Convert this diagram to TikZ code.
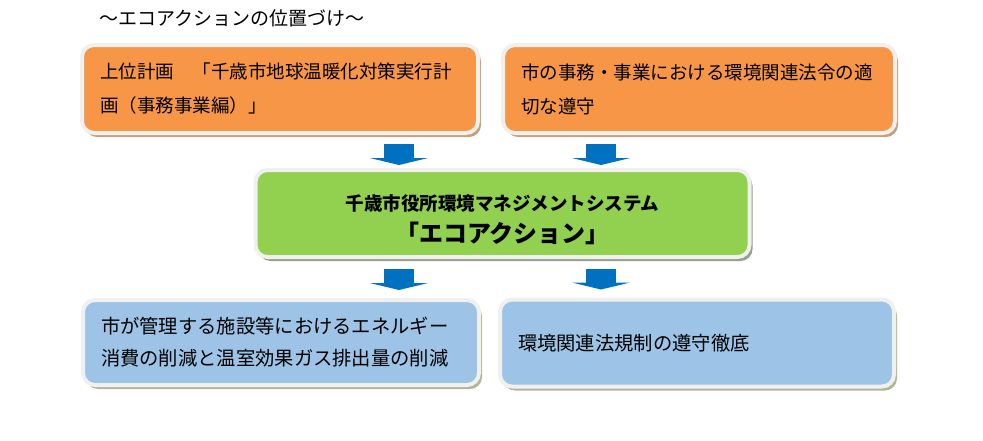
\documentclass[tikz,border=0pt]{standalone}
\usepackage{fontspec}
\setmainfont{Noto Sans CJK JP}
\usetikzlibrary{arrows.meta,positioning,calc,shadows}
\definecolor{plancol}{RGB}{247,150,70}
\definecolor{ecocol}{RGB}{146,208,80}
\definecolor{goalcol}{RGB}{157,195,230}
\definecolor{flowcol}{RGB}{0,112,192}
\definecolor{edgecol}{RGB}{240,240,238}
\definecolor{planshd}{RGB}{196,160,124}
\definecolor{ecoshd}{RGB}{150,158,140}
\definecolor{goalshd}{RGB}{178,182,150}

\begin{document}
\begin{tikzpicture}[x=1pt,y=-1pt,
  box/.style={rectangle,rounded corners=12pt,draw=edgecol,line width=4pt,
    inner xsep=18pt,inner ysep=0pt,align=left,text=black},
  planbox/.style={box,fill=plancol,font=\fontsize{18.5}{34}\selectfont,
    drop shadow={shadow xshift=3pt,shadow yshift=-4pt,fill=planshd,opacity=1}},
  ecobox/.style={box,fill=ecocol,align=center,
    drop shadow={shadow xshift=3pt,shadow yshift=-4pt,fill=ecoshd,opacity=1}},
  goalbox/.style={box,fill=goalcol,font=\fontsize{19.3}{32}\selectfont,
    drop shadow={shadow xshift=3pt,shadow yshift=-4pt,fill=goalshd,opacity=1}},
  flow/.style={flowcol,line width=30pt,-{Triangle[length=7pt,width=58pt]}}]
  \useasboundingbox (0,0) rectangle (983,440);

  \node[font=\fontsize{19}{22}\selectfont] (ttl) at (232,18) {～エコアクションの位置づけ～};

  % upper row
  \node[planbox,minimum width=396pt,minimum height=88pt,text width=360pt] (plan) at (280,89)
    {上位計画　「千歳市地球温暖化対策実行計\\画（事務事業編）」};
  \node[planbox,minimum width=392pt,minimum height=88pt,text width=356pt] (law) at (699,89)
    {市の事務・事業における環境関連法令の適\\切な遵守};

  % centre
  \node[ecobox,minimum width=494pt,minimum height=87pt,text width=458pt] (eco) at (502.5,213.5)
    {\rule{0pt}{28pt}{\fontsize{18.5}{24}\selectfont\bfseries 千歳市役所環境マネジメントシステム}\\[8pt]
     {\fontsize{24}{28}\selectfont\bfseries 「エコアクション」}};

  % lower row
  \node[goalbox,minimum width=396pt,minimum height=85pt,text width=360pt] (energy) at (281,342.5)
    {市が管理する施設等におけるエネルギー\\消費の削減と温室効果ガス排出量の削減};
  \node[goalbox,minimum width=394pt,minimum height=87pt,text width=358pt] (comply) at (697,343)
    {環境関連法規制の遵守徹底};

  % block arrows
  \coordinate (fl) at (399,0);
  \coordinate (fr) at (601,0);
  \foreach \c/\a/\b in {fl/plan/eco,fr/law/eco}
    {\draw[flow,shorten <=9pt,shorten >=3pt] (\c |- \a.south) -- (\c |- \b.north);}
  \foreach \c/\b in {fl/energy,fr/comply}
    {\draw[flow,shorten <=10pt,shorten >=8pt] (\c |- eco.south) -- (\c |- \b.north);}
\end{tikzpicture}
\end{document}
